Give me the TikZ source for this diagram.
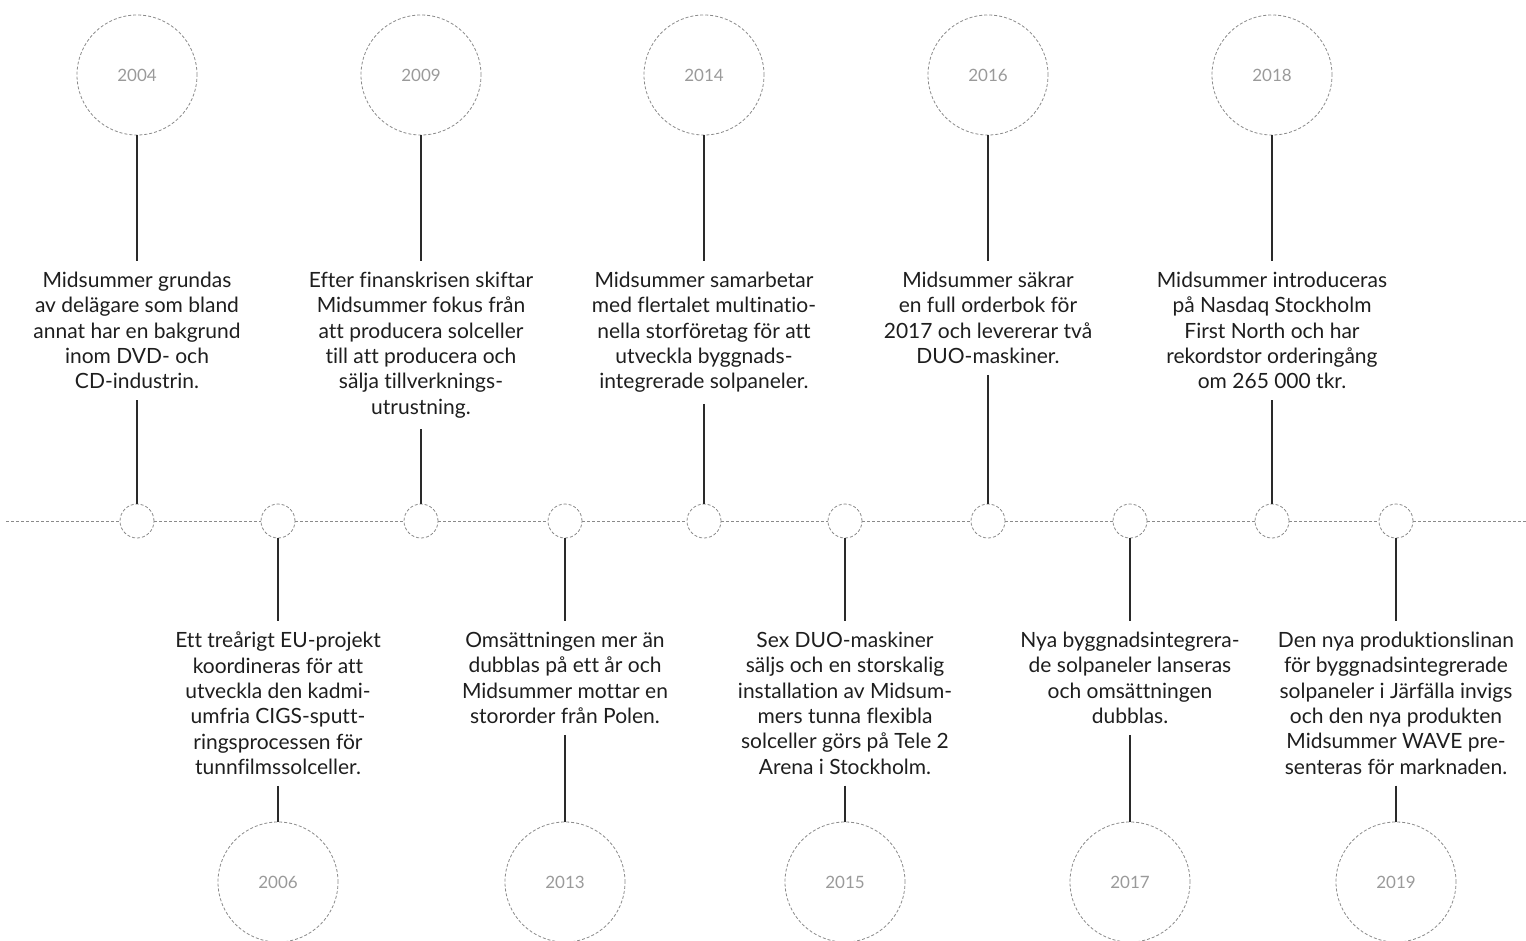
\documentclass[tikz,border=0pt]{standalone}
\usepackage{fontspec}
\setmainfont[Ligatures=NoCommon]{Lato}
\definecolor{txt}{HTML}{1E1E1E}
\definecolor{yr}{HTML}{9A9A9A}
\definecolor{ring}{HTML}{8A8A8A}
\definecolor{vline}{HTML}{2A2A2A}
\begin{document}
\begin{tikzpicture}[x=1pt,y=-1pt,
  yearring/.style={circle,draw=ring,densely dashed,line width=0.8pt,minimum size=120pt,inner sep=0pt,text=yr,font=\fontsize{17}{19}\selectfont},
  dot/.style={circle,draw=ring,densely dashed,line width=0.8pt,minimum size=34pt,inner sep=0pt},
  desc/.style={align=center,text=txt,inner xsep=0pt,inner ysep=11pt,font=\fontsize{21}{25.3}\selectfont},
  stem/.style={draw=vline,line width=1.8pt},
  axis/.style={draw=ring,densely dashed,line width=0.8pt}]
\useasboundingbox (0,0) rectangle (1526,940);
% small circles on axis
\foreach \n/\x in {d1/137,d2/278,d3/421,d4/565,d5/704,d6/845,d7/988,d8/1130,d9/1272,d10/1396}{
  \node[dot] (\n) at (\x,521) {};
}
\coordinate (L) at (6,521);
\coordinate (R) at (1526,521);
\draw[axis] (L) -- (d1.west);
\draw[axis] (d1.east) -- (d2.west);
\draw[axis] (d2.east) -- (d3.west);
\draw[axis] (d3.east) -- (d4.west);
\draw[axis] (d4.east) -- (d5.west);
\draw[axis] (d5.east) -- (d6.west);
\draw[axis] (d6.east) -- (d7.west);
\draw[axis] (d7.east) -- (d8.west);
\draw[axis] (d8.east) -- (d9.west);
\draw[axis] (d9.east) -- (d10.west);
\draw[axis] (d10.east) -- (R);
% year circles
\node[yearring] (y1) at (137,75) {2004};
\node[yearring] (y2) at (421,75) {2009};
\node[yearring] (y3) at (704,75) {2014};
\node[yearring] (y4) at (988,75) {2016};
\node[yearring] (y5) at (1272,75) {2018};
\node[yearring] (y6) at (278,882) {2006};
\node[yearring] (y7) at (565,882) {2013};
\node[yearring] (y8) at (845,882) {2015};
\node[yearring] (y9) at (1130,882) {2017};
\node[yearring] (y10) at (1396,882) {2019};
% top descriptions
\node[desc,anchor=north] (t1) at (137,261) {Midsummer grundas\\av delägare som bland\\annat har en bakgrund\\inom DVD- och\\CD-industrin.};
\node[desc,anchor=north] (t2) at (421,261) {Efter finanskrisen skiftar\\Midsummer fokus från\\att producera solceller\\till att producera och\\sälja tillverknings-\\utrustning.};
\node[desc,anchor=north] (t3) at (704,261) {Midsummer samarbetar\\med flertalet multinatio-\\nella storföretag för att\\utveckla byggnads-\\integrerade solpaneler.};
\node[desc,anchor=north] (t4) at (988,261) {Midsummer säkrar\\en full orderbok för\\2017 och levererar två\\DUO-maskiner.};
\node[desc,anchor=north] (t5) at (1272,261) {Midsummer introduceras\\på Nasdaq Stockholm\\First North och har\\rekordstor orderingång\\om 265 000 tkr.};
% bottom descriptions
\node[desc,anchor=north] (b1) at (278,621) {Ett treårigt EU-projekt\\koordineras för att\\utveckla den kadmi-\\umfria CIGS-sputt-\\ringsprocessen för\\tunnfilmssolceller.};
\node[desc,anchor=north] (b2) at (565,621) {Omsättningen mer än\\dubblas på ett år och\\Midsummer mottar en\\stororder från Polen.};
\node[desc,anchor=north] (b3) at (845,621) {Sex DUO-maskiner\\säljs och en storskalig\\installation av Midsum-\\mers tunna flexibla\\solceller görs på Tele 2\\Arena i Stockholm.};
\node[desc,anchor=north] (b4) at (1130,621) {Nya byggnadsintegrera-\\de solpaneler lanseras\\och omsättningen\\dubblas.};
\node[desc,anchor=north] (b5) at (1396,621) {Den nya produktionslinan\\för byggnadsintegrerade\\solpaneler i Järfälla invigs\\och den nya produkten\\Midsummer WAVE pre-\\senteras för marknaden.};
% stems top
\draw[stem] (y1.south) -- (t1.north); \draw[stem] (t1.south) -- (d1.north);
\draw[stem] (y2.south) -- (t2.north); \draw[stem] (t2.south) -- (d3.north);
\draw[stem] (y3.south) -- (t3.north); \draw[stem] (t3.south) -- (d5.north);
\draw[stem] (y4.south) -- (t4.north); \draw[stem] (t4.south) -- (d7.north);
\draw[stem] (y5.south) -- (t5.north); \draw[stem] (t5.south) -- (d9.north);
% stems bottom
\draw[stem] (d2.south) -- (b1.north); \draw[stem] (b1.south) -- (y6.north);
\draw[stem] (d4.south) -- (b2.north); \draw[stem] (b2.south) -- (y7.north);
\draw[stem] (d6.south) -- (b3.north); \draw[stem] (b3.south) -- (y8.north);
\draw[stem] (d8.south) -- (b4.north); \draw[stem] (b4.south) -- (y9.north);
\draw[stem] (d10.south) -- (b5.north); \draw[stem] (b5.south) -- (y10.north);
\end{tikzpicture}
\end{document}
